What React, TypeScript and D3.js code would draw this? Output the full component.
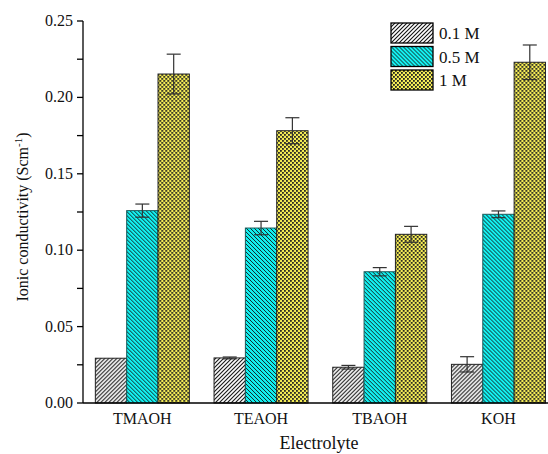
import React from "react"
import * as d3 from "d3"

const electrolytes = ["TMAOH", "TEAOH", "TBAOH", "KOH"]
const series = ["0.1 M", "0.5 M", "1 M"]
// values per series, in electrolyte order
const conc01 = [0.0293, 0.0295, 0.0234, 0.0253]
const conc05 = [0.1259, 0.1145, 0.0859, 0.1235]
const conc1 = [0.2153, 0.1782, 0.1104, 0.223]
const err01 = [0.0, 0.0006, 0.0012, 0.005]
const err05 = [0.0043, 0.0044, 0.0027, 0.0022]
const err1 = [0.013, 0.0085, 0.0052, 0.0113]
const yTicks = [0, 0.05, 0.1, 0.15, 0.2, 0.25]

const values = [conc01, conc05, conc1]
const errors = [err01, err05, err1]
const fills = ["url(#hatchA)", "url(#hatchB)", "url(#checker)"]
const strokes = ["#222", "#1a5a5a", "#222"]

const W = 548
const H = 454
const margin = { top: 21, left: 83, bottom: 51 }
const font = "Liberation Serif, Times New Roman, DejaVu Serif, serif"

export default function App() {
  const x = d3
    .scaleBand<string>()
    .domain(electrolytes)
    .range([margin.left, margin.left + 4 * 118.7])
    .paddingInner(0.208)
    .paddingOuter(0.104)
  const xs = d3
    .scaleBand<string>()
    .domain(series)
    .range([0, x.bandwidth()])
  const y = d3
    .scaleLinear()
    .domain([0, 0.25])
    .range([H - margin.bottom, margin.top])
  const minor = d3.range(0.025, 0.25, 0.05)

  return (
    <svg
      width={W}
      height={H}
      style={{ position: "absolute", left: 0, top: 0, background: "#fff", fontFamily: font }}
    >
      <defs>
        <pattern id="hatchA" patternUnits="userSpaceOnUse" width={4} height={4}>
          <rect width={4} height={4} fill="#fff" />
          <path d="M-1,1 l2,-2 M0,4 l4,-4 M3,5 l2,-2" stroke="#111" strokeWidth={1.1} />
        </pattern>
        <pattern id="hatchB" patternUnits="userSpaceOnUse" width={4} height={4}>
          <rect width={4} height={4} fill="#12f0f0" />
          <path d="M-1,3 l2,2 M0,0 l4,4 M3,-1 l2,2" stroke="#111" strokeWidth={0.9} />
        </pattern>
        <pattern id="checker" patternUnits="userSpaceOnUse" width={4} height={4}>
          <rect width={4} height={4} fill="#f6ee55" />
          <rect x={0} y={0} width={1.8} height={1.8} fill="#222" />
          <rect x={2} y={2} width={1.8} height={1.8} fill="#222" />
        </pattern>
      </defs>

      {/* bars */}
      {electrolytes.map((e, i) => (
        <g key={e} transform={`translate(${x(e)},0)`}>
          {series.map((s, k) => {
            const v = values[k][i]
            return (
              <rect
                key={s}
                x={xs(s)}
                y={y(v)}
                width={xs.bandwidth()}
                height={y(0) - y(v)}
                fill={fills[k]}
                stroke={strokes[k]}
                strokeWidth={1}
              />
            )
          })}
        </g>
      ))}

      {/* error bars */}
      {electrolytes.map((e, i) =>
        series.map((s, k) => {
          const v = values[k][i]
          const er = errors[k][i]
          if (!er) return null
          const cx = (x(e) as number) + (xs(s) as number) + xs.bandwidth() / 2
          return (
            <g key={e + s} stroke="#333" strokeWidth={1.2}>
              <line x1={cx} x2={cx} y1={y(v + er)} y2={y(v - er)} />
              <line x1={cx - 7} x2={cx + 7} y1={y(v + er)} y2={y(v + er)} />
              <line x1={cx - 7} x2={cx + 7} y1={y(v - er)} y2={y(v - er)} />
            </g>
          )
        })
      )}

      {/* y axis */}
      <line x1={margin.left} x2={margin.left} y1={y(0)} y2={y(0.25)} stroke="#000" strokeWidth={1.3} />
      {yTicks.map(t => (
        <g key={t}>
          <line x1={margin.left - 6} x2={margin.left} y1={y(t)} y2={y(t)} stroke="#000" strokeWidth={1.3} />
          <text x={margin.left - 10} y={y(t) + 5} textAnchor="end" fontSize={16} fill="#111">
            {d3.format(".2f")(t)}
          </text>
        </g>
      ))}
      {minor.map(t => (
        <line key={t} x1={margin.left - 6} x2={margin.left} y1={y(t)} y2={y(t)} stroke="#000" strokeWidth={1.3} />
      ))}

      {/* x axis */}
      <line x1={margin.left} x2={W} y1={y(0)} y2={y(0)} stroke="#000" strokeWidth={1.5} />
      {electrolytes.map(e => (
        <text
          key={e}
          x={(x(e) as number) + x.bandwidth() / 2}
          y={y(0) + 21}
          textAnchor="middle"
          fontSize={16}
          fill="#111"
        >
          {e}
        </text>
      ))}

      <text x={319} y={449} textAnchor="middle" fontSize={18} fill="#111">
        Electrolyte
      </text>
      <text transform="translate(28,217) rotate(-90)" textAnchor="middle" fontSize={16} fill="#111">
        Ionic conductivity (Scm
        <tspan dy={-6} fontSize={11}>-1</tspan>
        <tspan dy={6}>)</tspan>
      </text>

      {/* legend */}
      {series.map((s, k) => (
        <g key={s} transform={`translate(391,${23 + k * 23.5})`}>
          <rect width={42} height={20} fill={fills[k]} stroke="#000" strokeWidth={1.3} />
          <text x={48} y={16} fontSize={17} fill="#111">
            {s}
          </text>
        </g>
      ))}
    </svg>
  )
}
